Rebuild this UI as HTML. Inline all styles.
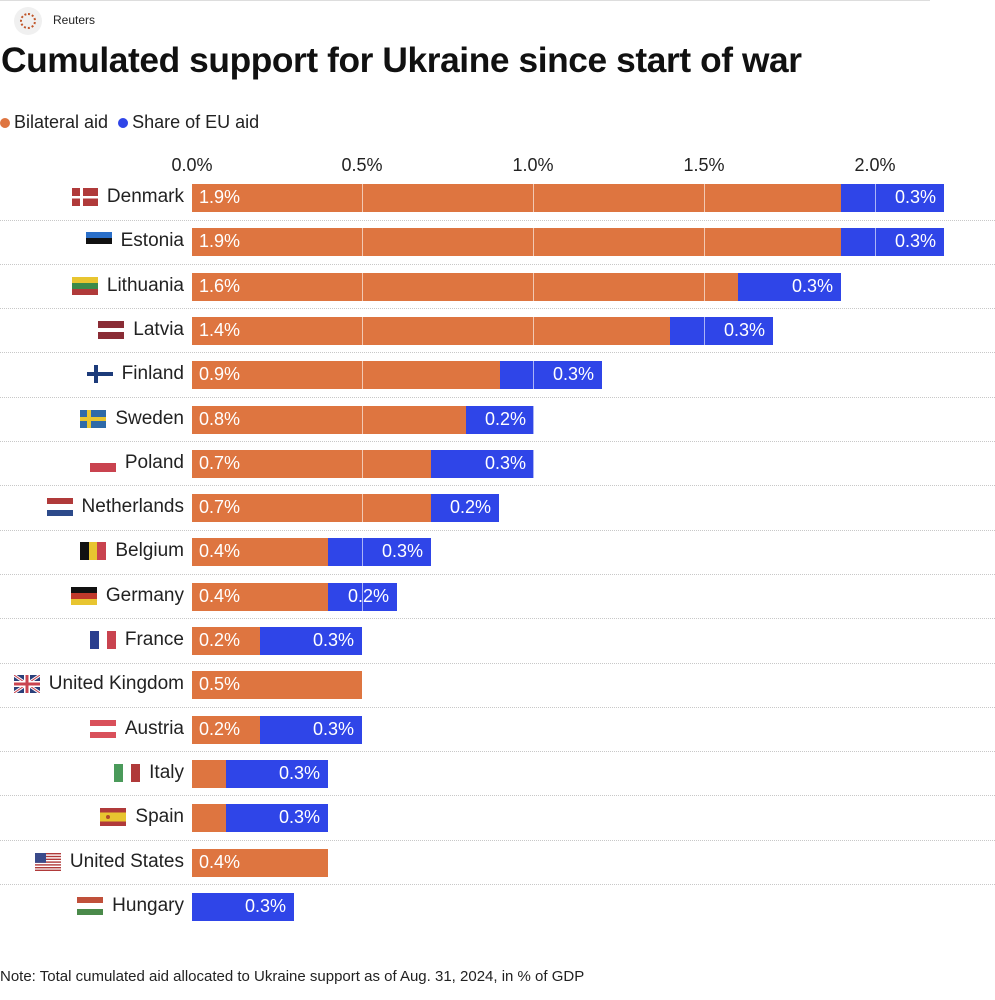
<!DOCTYPE html>
<html><head><meta charset="utf-8"><style>
body{margin:0;width:995px;height:1000px;background:#fff;position:relative;font-family:"Liberation Sans",Arial,sans-serif;overflow:hidden}
.a{position:absolute}
.lbl{position:absolute;right:811px;font-size:19px;color:#222;white-space:nowrap;height:28px;line-height:28px;display:flex;align-items:center}
.lbl svg{margin-right:9px}
.bar{position:absolute;height:28px}
.o{background:#de7540}.b{background:#2f45e8}
.t{position:absolute;color:#fff;font-size:18px;line-height:27px;height:28px}
.sep{position:absolute;left:0;width:995px;border-top:1px dotted #c8c8c8}
.tick{position:absolute;top:155px;font-size:18px;color:#222;transform:translateX(-50%)}
.g{position:absolute;width:1px;background:rgba(255,255,255,.6)}
</style></head><body>
<div class="a" style="left:0;top:0;width:930px;border-top:1px solid #ddd"></div>
<div class="a" style="left:14px;top:7px;width:28px;height:28px;border-radius:50%;background:#f0f0f0"></div>
<div class="a" style="left:20px;top:13px;width:12px;height:12px;border-radius:50%;border:2px dotted #c0562a"></div>
<div class="a" style="left:53px;top:13px;font-size:12px;color:#222">Reuters</div>
<div class="a" style="left:1px;top:41px;font-size:35.3px;font-weight:bold;color:#111;letter-spacing:-0.4px">Cumulated support for Ukraine since start of war</div>
<div class="a" style="left:0;top:112px;font-size:18px;color:#222"><span style="display:inline-block;width:10px;height:10px;border-radius:50%;background:#de7540;margin-right:4px"></span>Bilateral aid &nbsp;<span style="display:inline-block;width:10px;height:10px;border-radius:50%;background:#2f45e8;margin-right:4px"></span>Share of EU aid</div>
<div class="tick" style="left:192px">0.0%</div><div class="tick" style="left:362px">0.5%</div><div class="tick" style="left:533px">1.0%</div><div class="tick" style="left:704px">1.5%</div><div class="tick" style="left:875px">2.0%</div>
<div id="c"></div>
<div class="a" style="left:0;top:968px;font-size:15px;color:#222">Note: Total cumulated aid allocated to Ukraine support as of Aug. 31, 2024, in % of GDP</div>
<script>
const F={
dk:'<rect width="26" height="18" fill="#b03a3a"/><rect x="8" width="3" height="18" fill="#fff"/><rect y="8" width="26" height="2.5" fill="#fff"/>',
ee:'<rect width="26" height="6" fill="#2a6fc9"/><rect y="6" width="26" height="6" fill="#111"/><rect y="12" width="26" height="6" fill="#fff"/>',
lt:'<rect width="26" height="6" fill="#e8c530"/><rect y="6" width="26" height="6" fill="#3b8a4a"/><rect y="12" width="26" height="6" fill="#b03a3a"/>',
lv:'<rect width="26" height="18" fill="#8a2c35"/><rect y="7" width="26" height="4" fill="#fff"/>',
fi:'<rect width="26" height="18" fill="#fff"/><rect x="7" width="4" height="18" fill="#1c3b7a"/><rect y="7" width="26" height="4" fill="#1c3b7a"/>',
se:'<rect width="26" height="18" fill="#2f6aa8"/><rect x="7" width="4" height="18" fill="#e8c530"/><rect y="7" width="26" height="4" fill="#e8c530"/>',
pl:'<rect width="26" height="9" fill="#fff"/><rect y="9" width="26" height="9" fill="#c9434f"/>',
nl:'<rect width="26" height="6" fill="#b03a3a"/><rect y="6" width="26" height="6" fill="#fff"/><rect y="12" width="26" height="6" fill="#2c4a8a"/>',
be:'<rect width="9" height="18" fill="#111"/><rect x="9" width="8" height="18" fill="#e8c530"/><rect x="17" width="9" height="18" fill="#c9434f"/>',
de:'<rect width="26" height="6" fill="#111"/><rect y="6" width="26" height="6" fill="#c0392b"/><rect y="12" width="26" height="6" fill="#e8c530"/>',
fr:'<rect width="9" height="18" fill="#2a3f8f"/><rect x="9" width="8" height="18" fill="#fff"/><rect x="17" width="9" height="18" fill="#c9434f"/>',
gb:'<rect width="26" height="18" fill="#2a3f7a"/><path d="M0 0L26 18M26 0L0 18" stroke="#fff" stroke-width="3"/><path d="M0 0L26 18M26 0L0 18" stroke="#c9434f" stroke-width="1"/><rect x="10" width="6" height="18" fill="#fff"/><rect y="6" width="26" height="6" fill="#fff"/><rect x="11.5" width="3" height="18" fill="#c9434f"/><rect y="7.5" width="26" height="3" fill="#c9434f"/>',
at:'<rect width="26" height="18" fill="#d9505a"/><rect y="6" width="26" height="6" fill="#fff"/>',
it:'<rect width="9" height="18" fill="#4a9a5a"/><rect x="9" width="8" height="18" fill="#fff"/><rect x="17" width="9" height="18" fill="#b03a3a"/>',
es:'<rect width="26" height="18" fill="#b03a3a"/><rect y="4.5" width="26" height="9" fill="#e8c530"/><circle cx="8" cy="9" r="2" fill="#b04a2a"/>',
us:'<rect width="26" height="18" fill="#fff"/><g fill="#b03a3a"><rect y="0" width="26" height="1.4"/><rect y="2.8" width="26" height="1.4"/><rect y="5.6" width="26" height="1.4"/><rect y="8.4" width="26" height="1.4"/><rect y="11.2" width="26" height="1.4"/><rect y="14" width="26" height="1.4"/><rect y="16.6" width="26" height="1.4"/></g><rect width="11" height="9.8" fill="#3a4a8a"/>',
hu:'<rect width="26" height="6" fill="#c0503a"/><rect y="6" width="26" height="6" fill="#fff"/><rect y="12" width="26" height="6" fill="#4a8a4a"/>'};
const R=[["Denmark","dk",841,944,"1.9%","0.3%"],["Estonia","ee",841,944,"1.9%","0.3%"],["Lithuania","lt",738,841,"1.6%","0.3%"],["Latvia","lv",670,773,"1.4%","0.3%"],["Finland","fi",500,602,"0.9%","0.3%"],["Sweden","se",466,534,"0.8%","0.2%"],["Poland","pl",431,534,"0.7%","0.3%"],["Netherlands","nl",431,499,"0.7%","0.2%"],["Belgium","be",328,431,"0.4%","0.3%"],["Germany","de",328,397,"0.4%","0.2%"],["France","fr",260,362,"0.2%","0.3%"],["United Kingdom","gb",362,362,"0.5%",""],["Austria","at",260,362,"0.2%","0.3%"],["Italy","it",226,328,"","0.3%"],["Spain","es",226,328,"","0.3%"],["United States","us",328,328,"0.4%",""],["Hungary","hu",192,294,"","0.3%"]];
let h="";
R.forEach((r,i)=>{const y=184+i*44.3;
h+=`<div class="lbl" style="top:${y-1}px"><svg width="26" height="18">${F[r[1]]}</svg>${r[0]}</div>`;
if(r[2]>192)h+=`<div class="bar o" style="left:192px;top:${y}px;width:${r[2]-192}px"></div>`;
if(r[3]>r[2])h+=`<div class="bar b" style="left:${r[2]}px;top:${y}px;width:${r[3]-r[2]}px"></div>`;
[362,533,704,875].forEach(x=>{if(x<r[3])h+=`<div class="g" style="left:${x}px;top:${y}px;height:28px"></div>`});
if(r[4])h+=`<div class="t" style="left:199px;top:${y}px">${r[4]}</div>`;
if(r[5])h+=`<div class="t" style="left:${r[3]-60}px;width:52px;text-align:right;top:${y}px">${r[5]}</div>`;
if(i<16)h+=`<div class="sep" style="top:${y+35.5}px"></div>`;});
document.getElementById("c").innerHTML=h;
</script>
</body></html>
